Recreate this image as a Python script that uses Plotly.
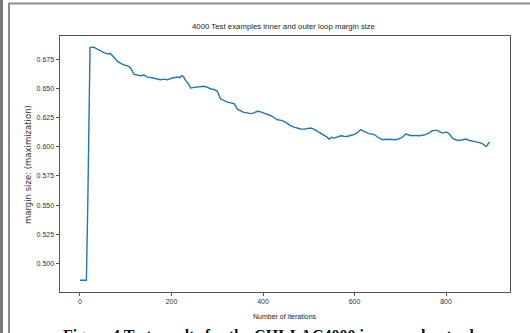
import plotly.graph_objects as go

title_text = "4000 Test examples inner and outer loop margin size"
x_label = "Number of iterations"
y_label = "margin size: (maximization)"
caption = "Figure 4 Test results for the CHI-LAC4000 inner and outer loop"

iterations = [0, 14, 17, 20, 22, 30, 38, 45, 52, 60, 67, 74, 82, 90, 96, 107, 112, 118,
              125, 133, 140, 147, 155, 162, 170, 176, 184, 191, 197, 202, 208, 213, 218, 222,
              226, 231, 237, 242, 249, 256, 264, 271, 279, 286, 293, 300, 307, 315, 322, 330,
              337, 344, 351, 358, 366, 373, 380, 388, 395, 402, 410, 417, 424, 431, 438, 446,
              453, 460, 468, 475, 482, 490, 497, 504, 511, 519, 526, 533, 540, 544, 550, 555,
              562, 570, 577, 584, 592, 599, 606, 613, 619, 624, 631, 639, 645, 650, 656, 661,
              668, 675, 683, 690, 696, 701, 707, 712, 719, 726, 734, 741, 748, 755, 763, 770,
              776, 781, 787, 792, 798, 803, 809, 814, 821, 828, 836, 843, 850, 857, 865, 872,
              880, 887, 890, 892, 895]
margin = [0.4857, 0.4857, 0.55, 0.66, 0.685, 0.6852, 0.6836, 0.6816, 0.6805, 0.6795,
          0.6796, 0.6765, 0.673, 0.6712, 0.670, 0.6687, 0.6665, 0.6618,
          0.6612, 0.6607, 0.6614, 0.6596, 0.6592, 0.6585, 0.6580, 0.6573, 0.6578, 0.6573,
          0.6580, 0.6590, 0.6592, 0.6596, 0.6590, 0.6608,
          0.6600, 0.6565, 0.6540, 0.6502, 0.6508, 0.6511, 0.6520, 0.6517, 0.6508, 0.6494,
          0.6490, 0.6474, 0.6410, 0.6395, 0.6382, 0.6375,
          0.6368, 0.6322, 0.6305, 0.6294, 0.6290, 0.6283, 0.6290, 0.6303, 0.6298, 0.6288,
          0.6278, 0.6265, 0.6250, 0.6231, 0.6228, 0.6217,
          0.6200, 0.6180, 0.6168, 0.6160, 0.6152, 0.6151, 0.6158, 0.6160, 0.6150, 0.6131,
          0.6118, 0.6094, 0.6082, 0.6066, 0.6080, 0.6074,
          0.6086, 0.6094, 0.6090, 0.6088, 0.6098, 0.6103, 0.6120, 0.6145, 0.6135, 0.6123,
          0.6112, 0.6108, 0.6100, 0.6083, 0.6068, 0.6060,
          0.6064, 0.6066, 0.6062, 0.6060, 0.6068, 0.6074, 0.6090, 0.6108, 0.6100, 0.6094,
          0.6097, 0.6094, 0.6098, 0.6103, 0.6118, 0.6137,
          0.6140, 0.6140, 0.6128, 0.6117, 0.6125, 0.6123, 0.6100, 0.6074, 0.6060, 0.6054,
          0.6060, 0.6066, 0.6055, 0.6046, 0.6042, 0.6037,
          0.6025, 0.6003, 0.6010, 0.6026, 0.6040]

W, H = 530, 333
fig = go.Figure()
fig.add_trace(go.Scatter(x=iterations, y=margin, mode="lines",
                         line=dict(color="#1f77b4", width=1.4), showlegend=False))

sans = "Liberation Sans, Arial, sans-serif"
axis_common = dict(showline=True, mirror=True, linecolor="#555555", linewidth=1,
                   ticks="outside", ticklen=3, tickcolor="#555555", showgrid=False,
                   zeroline=False, tickfont=dict(family=sans, size=7, color="#333333"))

fig.update_layout(
    width=W, height=H, margin=dict(l=0, r=0, t=0, b=0),
    paper_bgcolor="white", plot_bgcolor="white",
    xaxis=dict(domain=[59.5 / W, 510 / W], range=[-44.75, 939.75],
               tickvals=[0, 200, 400, 600, 800], **axis_common),
    yaxis=dict(domain=[1 - 292 / H, 1 - 35.7 / H], range=[0.4757, 0.6950],
               tickvals=[0.5, 0.525, 0.55, 0.575, 0.6, 0.625, 0.65, 0.675],
               ticktext=["0.500", "0.525", "0.550", "0.575", "0.600", "0.625", "0.650", "0.675"],
               **axis_common),
    shapes=[
        dict(type="rect", xref="paper", yref="paper", x0=0, x1=3 / W, y0=0, y1=1,
             fillcolor="#7a7a7a", line=dict(width=0)),
        dict(type="line", xref="paper", yref="paper", x0=9 / W, x1=9 / W, y0=0, y1=1 - 3 / H,
             line=dict(color="#8c8c8c", width=2)),
        dict(type="line", xref="paper", yref="paper", x0=9 / W, x1=1, y0=1 - 3.5 / H, y1=1 - 3.5 / H,
             line=dict(color="#8c8c8c", width=2)),
    ],
    annotations=[
        dict(text=title_text, xref="paper", yref="paper", x=283 / W, y=1 - 26 / H,
             showarrow=False, font=dict(family=sans, size=7.8, color="#222222"),
             xanchor="center", yanchor="middle"),
        dict(text=x_label, xref="paper", yref="paper", x=285 / W, y=1 - 316 / H,
             showarrow=False, font=dict(family=sans, size=7, color="#222222"),
             xanchor="center", yanchor="middle"),
        dict(text=y_label, xref="paper", yref="paper", x=28 / W, y=1 - 165 / H,
             showarrow=False, textangle=-90, font=dict(family="DejaVu Sans", size=8.5, color="#333333"),
             xanchor="center", yanchor="middle"),
        dict(text="<b>" + caption + "</b>", xref="paper", yref="paper", x=281 / W, y=1 - 325 / H,
             showarrow=False, font=dict(family="Liberation Serif", size=16, color="#111111"),
             xanchor="center", yanchor="top"),
    ],
)

fig.write_html("out.html")
